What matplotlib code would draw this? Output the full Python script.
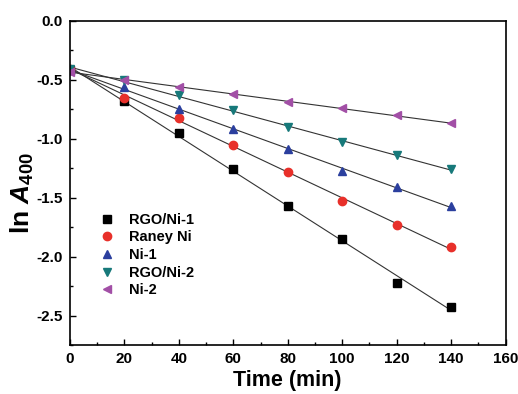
import matplotlib
matplotlib.use('Agg')
import matplotlib.pyplot as plt
import numpy as np

plt.rcParams['font.family'] = ['Liberation Sans', 'DejaVu Sans']
plt.rcParams['font.weight'] = 'bold'
plt.rcParams['axes.unicode_minus'] = False
plt.rcParams['mathtext.fontset'] = 'custom'
plt.rcParams['mathtext.it'] = 'Liberation Sans:italic:bold'
plt.rcParams['mathtext.rm'] = 'Liberation Sans:bold'
plt.rcParams['mathtext.bf'] = 'Liberation Sans:bold'

# reaction time (min)
time = [0, 20, 40, 60, 80, 100, 120, 140]

# ln A400 for each catalyst
rgo_ni_1 = [-0.42, -0.68, -0.95, -1.26, -1.57, -1.85, -2.22, -2.43]
raney_ni = [-0.41, -0.65, -0.82, -1.05, -1.28, -1.53, -1.73, -1.92]
ni_1 = [-0.42, -0.56, -0.75, -0.92, -1.09, -1.27, -1.41, -1.57]
rgo_ni_2 = [-0.41, -0.50, -0.63, -0.76, -0.90, -1.03, -1.14, -1.26]
ni_2 = [-0.43, -0.50, -0.56, -0.62, -0.69, -0.74, -0.80, -0.87]

labels = ['RGO/Ni-1', 'Raney Ni', 'Ni-1', 'RGO/Ni-2', 'Ni-2']
series = [rgo_ni_1, raney_ni, ni_1, rgo_ni_2, ni_2]
markers = ['s', 'o', '^', 'v', '<']
colors = ['#000000', '#e8302a', '#2b3f9e', '#17797a', '#a24fa6']

fig = plt.figure(figsize=(5.18, 3.94), dpi=100)
ax = fig.add_axes([0.135, 0.124, 0.841, 0.823])

x = np.array(time)
for y, lab, m, c in zip(series, labels, markers, colors):
    # linear fit drawn through the points
    k, b = np.polyfit(x, y, 1)
    ax.plot(x, k * x + b, color='#333333', lw=0.8, zorder=1)
    ax.plot(x, y, ls='none', marker=m, color=c, ms=6, label=lab, zorder=2)

ax.set_xlim(0, 160)
ax.set_ylim(-2.75, 0.0)
ax.set_xticks(np.arange(0, 161, 20))
ax.set_xticks(np.arange(0, 161, 10), minor=True)
ax.set_yticks([-2.5, -2.0, -1.5, -1.0, -0.5, 0.0])
ax.set_yticks(np.arange(-2.75, 0.01, 0.25), minor=True)
ax.tick_params(which='both', direction='in', top=False, right=False, labelsize=11, width=1)
ax.tick_params(which='major', length=4, pad=5)
ax.tick_params(which='minor', length=2.5)
for t in ax.get_xticklabels() + ax.get_yticklabels():
    t.set_fontweight('bold')
for sp in ax.spines.values():
    sp.set_linewidth(1.2)

ax.set_xlabel('Time (min)', fontsize=15.5, fontweight='bold', labelpad=3)
ax.set_ylabel(r'ln $\mathit{A}_{\mathrm{400}}$', fontsize=19, fontweight='bold')
ax.yaxis.set_label_coords(-0.078, 0.47)

ax.legend(loc='upper left', bbox_to_anchor=(0.045, 0.44), frameon=False,
          prop={'size': 10.5, 'weight': 'bold'},
          handletextpad=1.0, labelspacing=0.25, handlelength=1.0, borderpad=0.2)

plt.savefig('out.png', dpi=100)
